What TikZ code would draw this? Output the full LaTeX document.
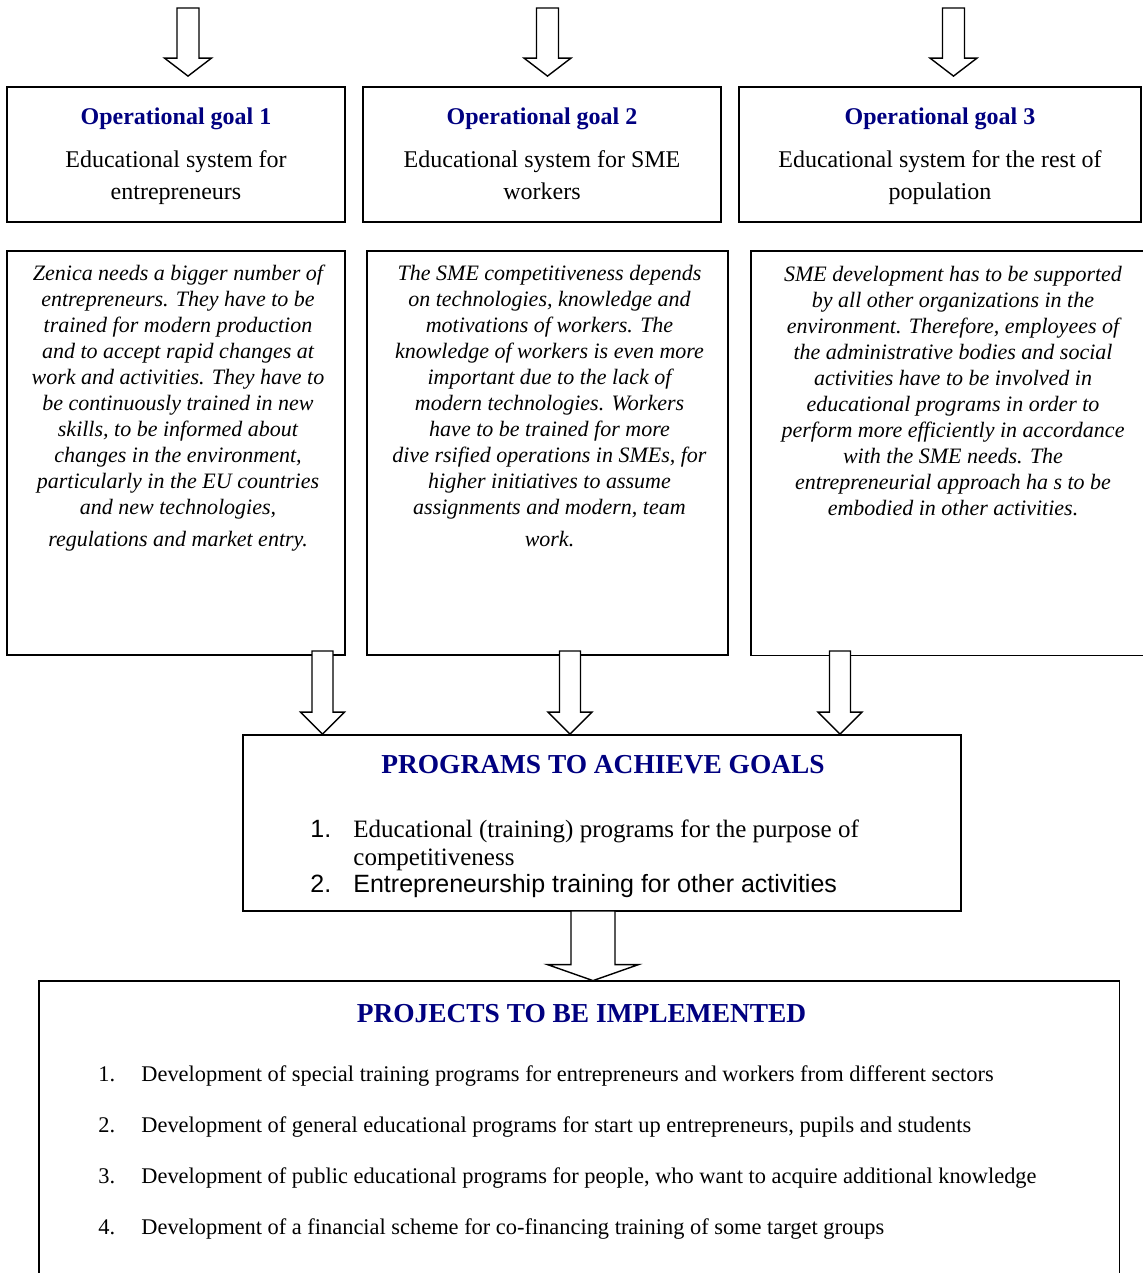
\documentclass[tikz,border=0pt]{standalone}
\usepackage{fontspec}
\setmainfont{Liberation Serif}
\setsansfont{Liberation Sans}
\usepackage{tikz}
\usetikzlibrary{calc,positioning}
\definecolor{goalblue}{HTML}{000080}

% hollow block arrow: start, tip, shaft half width, head half width, head length
\newcommand{\blockarrow}[5]{%
  \draw[hollow] let \p1=(#1), \p2=(#2) in
    (\x1-#3,\y1) -- (\x1-#3,\y2+#5) -- (\x1-#4,\y2+#5) -- (\x1,\y2)
    -- (\x1+#4,\y2+#5) -- (\x1+#3,\y2+#5) -- (\x1+#3,\y1) -- cycle;}

\begin{document}
\begin{tikzpicture}[x=0.5pt, y=-0.5pt,
  box/.style={draw, line width=0.9pt, inner sep=0pt},
  frame/.style={line width=0.9pt},
  hollow/.style={draw, fill=white, line width=0.7pt, line join=miter},
  goaltext/.style={align=center, font=\fontsize{12}{16}\selectfont},
  notetext/.style={align=center, inner sep=0pt, font=\fontsize{11}{13}\selectfont\itshape},
  headline/.style={inner sep=0pt, text=goalblue, font=\fontsize{13.7}{16}\selectfont\bfseries},
  progitem/.style={inner sep=0pt, align=left, font=\fontsize{12.5}{14}\selectfont},
  projitem/.style={inner sep=0pt, font=\fontsize{11.2}{13}\selectfont}]
\useasboundingbox (0,0) rectangle (1143,1273);

% operational goals
\node[box, goaltext, minimum width=169pt, minimum height=67.5pt] (goal1) at (176,154.5)
  {\rule{0pt}{12.5pt}\textbf{\color{goalblue}Operational goal 1}\\[5.5pt]
   Educational system for\\ entrepreneurs\strut};
\node[box, goaltext, minimum width=179pt, minimum height=67.5pt] (goal2) at (542,154.5)
  {\rule{0pt}{12.5pt}\textbf{\color{goalblue}Operational goal 2}\\[5.5pt]
   Educational system for SME\\ workers\strut};
\node[box, goaltext, minimum width=201pt, minimum height=67.5pt] (goal3) at (940,154.5)
  {\rule{0pt}{12.5pt}\textbf{\color{goalblue}Operational goal 3}\\[5.5pt]
   Educational system for the rest of\\ population\strut};

% explanations
\node[box, minimum width=169pt, minimum height=202pt] (note1) at (176,453) {};
\node[box, minimum width=180.5pt, minimum height=202pt] (note2) at (547.5,453) {};
\node[inner sep=0pt, minimum width=196pt, minimum height=202pt] (note3) at (947,453) {};
\draw[frame] (note3.north east) -- (note3.north west) -- (note3.south west) -- (note3.south east);

\node[notetext, anchor=north] (note1text) at ($(note1.north)+(2,12)$)
  {\strut Zenica needs a bigger number of\\
   entrepreneurs. They have to be\\
   trained for modern production\\
   and to accept rapid changes at\\
   work and activities. They have to\\
   be continuously trained in new\\
   skills, to be informed about\\
   changes in the environment,\\
   particularly in the EU countries\\
   and new technologies,\\[3pt]
   regulations and market entry.};
\node[notetext, anchor=north] (note2text) at ($(note2.north)+(2,12)$)
  {\strut The SME competitiveness depends\\
   on technologies, knowledge and\\
   motivations of workers. The\\
   knowledge of workers is even more\\
   important due to the lack of\\
   modern technologies. Workers\\
   have to be trained for more\\
   dive rsified operations in SMEs, for\\
   higher initiatives to assume\\
   assignments and modern, team\\[3pt]
   work.};
\node[notetext, anchor=north] (note3text) at ($(note3.north)+(6,12)$)
  {\strut SME development has to be supported\\
   by all other organizations in the\\
   environment. Therefore, employees of\\
   the administrative bodies and social\\
   activities have to be involved in\\
   educational programs in order to\\
   perform more efficiently in accordance\\
   with the SME needs. The\\
   entrepreneurial approach ha s to be\\
   embodied in other activities.};

% programs
\node[box, minimum width=359pt, minimum height=88pt] (prog) at (602,823) {};
\node[headline, anchor=base] (progtitle) at (603,773) {PROGRAMS TO ACHIEVE GOALS};
\node[progitem, anchor=base west, font=\fontsize{12.5}{14}\selectfont\sffamily] (prognum1) at (310,837) {1.};
\node[progitem, anchor=north west] (progitem1) at (353,817.4)
  {\strut Educational (training) programs for the purpose of\\competitiveness};
\node[progitem, anchor=base west, font=\fontsize{12.5}{14}\selectfont\sffamily] (prognum2) at (310,892) {2.};
\node[progitem, anchor=base west, font=\fontsize{12.5}{14}\selectfont\sffamily] (progitem2) at (353,892)
  {Entrepreneurship training for other activities};

% projects
\node[inner sep=0pt, minimum width=540pt, minimum height=146pt] (proj) at (579,1127) {};
\draw[frame] (proj.south west) -- (proj.north west) -- (proj.north east) -- (proj.south east);
\node[headline, anchor=base] (projtitle) at (581.5,1022) {PROJECTS TO BE IMPLEMENTED};
\foreach \txt [count=\i] in {%
  {Development of special training programs for entrepreneurs and workers from different sectors},
  {Development of general educational programs for start up entrepreneurs, pupils and students},
  {Development of public educational programs for people, who want to acquire additional knowledge},
  {Development of a financial scheme for co-financing training of some target groups}} {
  \node[projitem, anchor=base west] (projnum\i) at (98,{1081+51.3*(\i-1)}) {\i.};
  \node[projitem, anchor=base west] (projitem\i) at (141,{1081+51.3*(\i-1)}) {\txt};
}

% arrows into the goals
\coordinate (in1) at (188,8);
\coordinate (in2) at (547.5,8);
\coordinate (in3) at (953.5,8);
\blockarrow{in1}{$(in1 |- goal1.north)+(0,-10)$}{5.5pt}{11.75pt}{9pt}
\blockarrow{in2}{$(in2 |- goal2.north)+(0,-10)$}{5.5pt}{11.75pt}{9pt}
\blockarrow{in3}{$(in3 |- goal3.north)+(0,-10)$}{5.5pt}{11.75pt}{9pt}

% arrows into the programs
\coordinate (feed1) at (322.5,651);
\coordinate (feed2) at (570,651);
\coordinate (feed3) at (840,651);
\blockarrow{feed1}{feed1 |- prog.north}{5.25pt}{11pt}{11pt}
\blockarrow{feed2}{feed2 |- prog.north}{5.25pt}{11pt}{11pt}
\blockarrow{feed3}{feed3 |- prog.north}{5.25pt}{11pt}{11pt}

% arrow into the projects
\coordinate (out) at (593,911);
\blockarrow{out}{out |- proj.north}{11pt}{22.75pt}{8pt}
\end{tikzpicture}
\end{document}
